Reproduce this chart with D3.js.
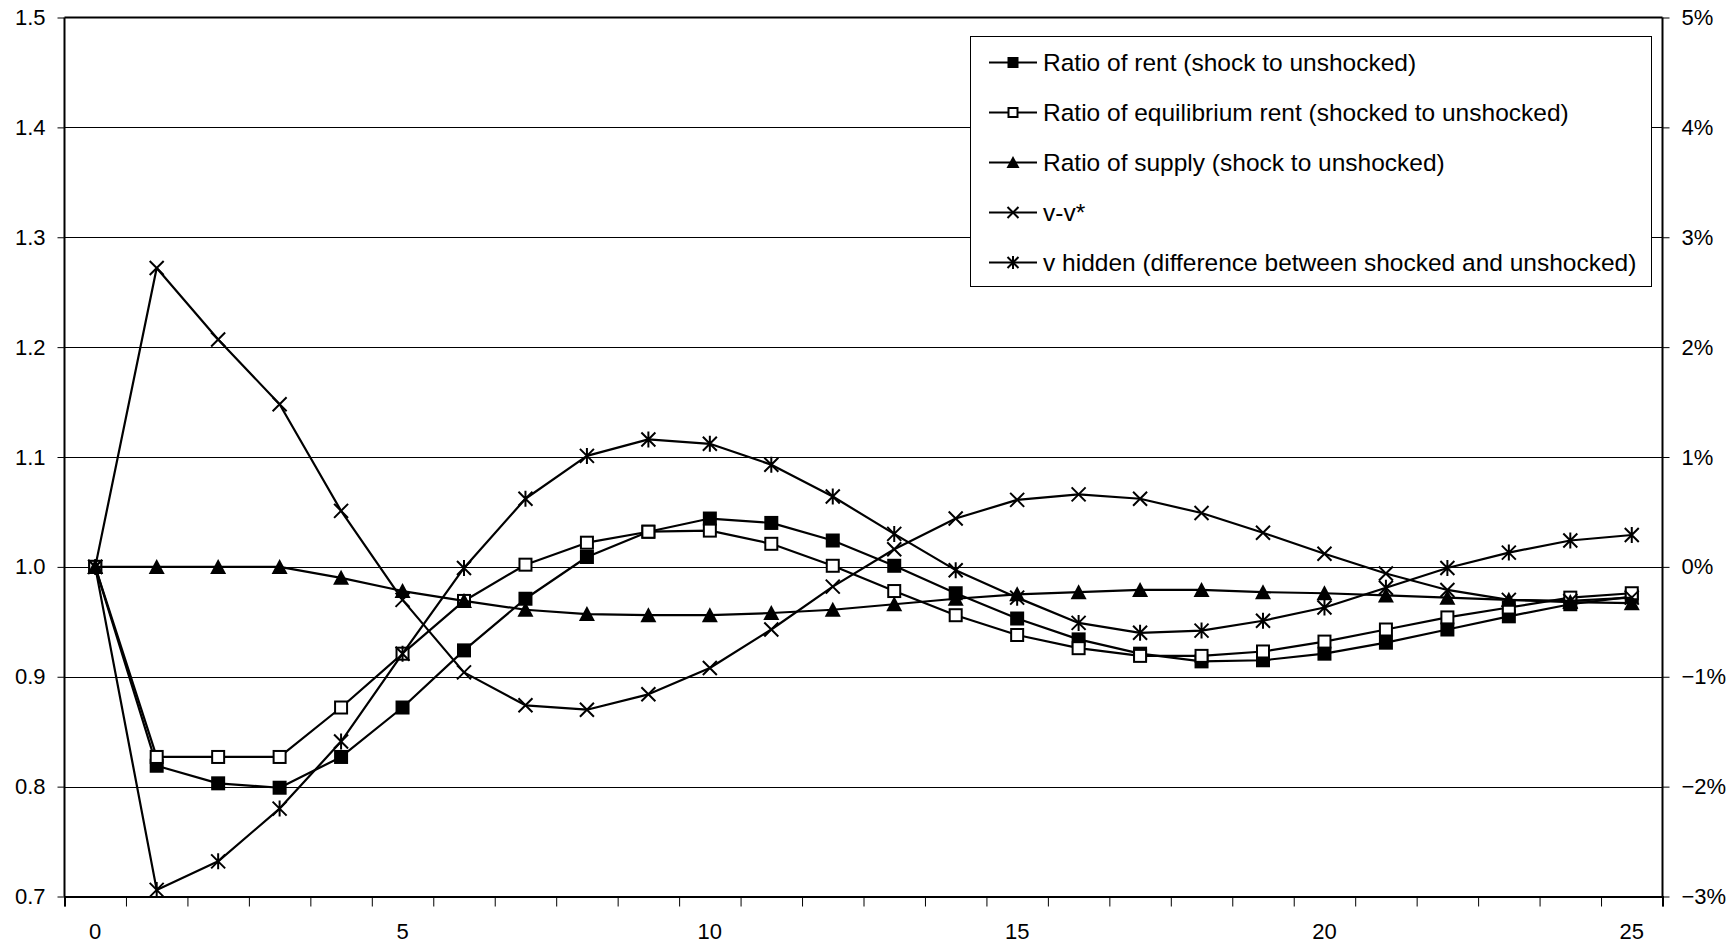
<!DOCTYPE html>
<html>
<head>
<meta charset="utf-8">
<script src="https://cdn.jsdelivr.net/npm/d3@7"></script>
<style>
  html, body { margin: 0; padding: 0; background: #fff; }
  svg { display: block; }
  text { font-family: Arial, "Liberation Sans", sans-serif; fill: #000; }
</style>
</head>
<body>
<svg id="chart" width="1736" height="947"></svg>
<script>
// ---- data ----
const periods = d3.range(0, 26);
const xTickLabels = [0, 5, 10, 15, 20, 25];
const leftTicks = [0.7, 0.8, 0.9, 1.0, 1.1, 1.2, 1.3, 1.4, 1.5];
const rightTicks = [-0.03, -0.02, -0.01, 0, 0.01, 0.02, 0.03, 0.04, 0.05];

const seriesNames = [
  "Ratio of rent (shock to unshocked)",
  "Ratio of equilibrium rent (shocked to unshocked)",
  "Ratio of supply (shock to unshocked)",
  "v-v*",
  "v hidden (difference between shocked and unshocked)"
];

// left axis (ratios)
const rentRatio = [1.000, 0.819, 0.803, 0.799, 0.827, 0.872, 0.924, 0.971, 1.009, 1.032, 1.044, 1.040, 1.024, 1.001, 0.976, 0.953,
  0.934, 0.921, 0.914, 0.915, 0.921, 0.931, 0.943, 0.955, 0.966, 0.973];
const eqRentRatio = [1.000, 0.827, 0.827, 0.827, 0.872, 0.921, 0.969, 1.002, 1.022, 1.032, 1.033, 1.021, 1.001, 0.978, 0.956, 0.938,
  0.926, 0.919, 0.919, 0.923, 0.932, 0.943, 0.954, 0.963, 0.972, 0.976];
const supplyRatio = [1.000, 1.000, 1.000, 1.000, 0.990, 0.978, 0.969, 0.961, 0.957, 0.956, 0.956, 0.958, 0.961, 0.966, 0.971, 0.975,
  0.977, 0.979, 0.979, 0.977, 0.976, 0.974, 0.972, 0.970, 0.968, 0.967];
// right axis (percent)
const vMinusVStar = [0.0000, 0.0272, 0.0207, 0.0148, 0.0051, -0.0030, -0.0096, -0.0126, -0.0130, -0.0116, -0.0092, -0.0057, -0.0018,
  0.0016, 0.0044, 0.0061, 0.0066, 0.0062, 0.0049, 0.0031, 0.0012, -0.0006, -0.0021, -0.0030, -0.0031, -0.0028];
const vHidden = [0.0000, -0.0294, -0.0268, -0.0220, -0.0159, -0.0079, -0.0001, 0.0062, 0.0101, 0.0116, 0.0112, 0.0093, 0.0064,
  0.0030, -0.0003, -0.0028, -0.0051, -0.0060, -0.0058, -0.0049, -0.0037, -0.0019, -0.0001, 0.0013, 0.0024, 0.0029];

// ---- layout ----
const svg = d3.select("#chart");
const L = 64.5, R = 1662.5, T = 17.5, B = 896.5;

const x = d3.scaleBand().domain(periods).range([L, R]).paddingInner(0).paddingOuter(0);
const xEdge = d3.scaleLinear().domain([0, periods.length]).range([L, R]);
const yL = d3.scaleLinear().domain([0.7, 1.5]).range([B, T]);
const yR = d3.scaleLinear().domain([-0.03, 0.05]).range([B, T]);
const cx = d => x(d) + x.bandwidth() / 2;
const tickFont = "22px";

// gridlines
svg.append("g").selectAll("line").data(leftTicks.slice(1, -1)).join("line")
  .attr("x1", L).attr("x2", R)
  .attr("y1", d => Math.round(yL(d)) + 0.5).attr("y2", d => Math.round(yL(d)) + 0.5)
  .attr("stroke", "#000").attr("stroke-width", 1);

// top border
svg.append("line").attr("x1", L).attr("x2", R).attr("y1", yL(1.5)).attr("y2", yL(1.5))
  .attr("stroke", "#000").attr("stroke-width", 2);

// left axis
const axL = svg.append("g").attr("transform", `translate(${L},0)`)
  .call(d3.axisLeft(yL).tickValues(leftTicks).tickFormat(d3.format(".1f")).tickSize(7).tickPadding(12));
axL.select(".domain").attr("stroke-width", 2).attr("d", `M0,${T}V${B}`);
axL.selectAll("text").style("font-size", tickFont).style("font-family", "Arial, 'Liberation Sans', sans-serif");

// right axis
const axR = svg.append("g").attr("transform", `translate(${R},0)`)
  .call(d3.axisRight(yR).tickValues(rightTicks).tickFormat(d3.format(".0%")).tickSize(7).tickPadding(12));
axR.select(".domain").attr("stroke-width", 2).attr("d", `M0,${T}V${B}`);
axR.selectAll("text").style("font-size", tickFont).style("font-family", "Arial, 'Liberation Sans', sans-serif");

// bottom axis: tick marks at category edges
const axBt = svg.append("g").attr("transform", `translate(0,${B})`)
  .call(d3.axisBottom(xEdge).tickValues(d3.range(0, periods.length + 1)).tickFormat("").tickSize(10));
axBt.select(".domain").attr("stroke-width", 2);
// bottom axis labels
const axB = svg.append("g").attr("transform", `translate(0,${B})`)
  .call(d3.axisBottom(x).tickValues(xTickLabels).tickSize(0).tickPadding(27));
axB.select(".domain").remove();
axB.selectAll("text").style("font-size", tickFont).style("font-family", "Arial, 'Liberation Sans', sans-serif");

// ---- markers ----
function marker(g, type, size) {
  const h = size / 2;
  if (type === "fsq") {
    g.append("rect").attr("x", -h).attr("y", -h).attr("width", size).attr("height", size).attr("fill", "#000");
  } else if (type === "osq") {
    g.append("rect").attr("x", -h + 1).attr("y", -h + 1).attr("width", size - 2).attr("height", size - 2)
      .attr("fill", "#fff").attr("stroke", "#000").attr("stroke-width", 2);
  } else if (type === "tri") {
    g.append("path").attr("d", `M0,${-h - 1}L${h + 1},${h}L${-h - 1},${h}Z`).attr("fill", "#000");
  } else if (type === "x") {
    g.append("path").attr("d", `M${-h},${-h}L${h},${h}M${-h},${h}L${h},${-h}`)
      .attr("stroke", "#000").attr("stroke-width", 2).attr("fill", "none");
  } else if (type === "ast") {
    g.append("path").attr("d", `M${-h},${-h}L${h},${h}M${-h},${h}L${h},${-h}M0,${-h - 1}L0,${h + 1}`)
      .attr("stroke", "#000").attr("stroke-width", 2).attr("fill", "none");
  }
}

const series = [
  { name: seriesNames[0], values: rentRatio, y: yL, m: "fsq" },
  { name: seriesNames[1], values: eqRentRatio, y: yL, m: "osq" },
  { name: seriesNames[2], values: supplyRatio, y: yL, m: "tri" },
  { name: seriesNames[3], values: vMinusVStar, y: yR, m: "x" },
  { name: seriesNames[4], values: vHidden, y: yR, m: "ast" }
];

series.forEach(s => {
  const line = d3.line().x((d, i) => cx(periods[i])).y(d => s.y(d));
  const g = svg.append("g");
  g.append("path").datum(s.values).attr("d", line)
    .attr("fill", "none").attr("stroke", "#000").attr("stroke-width", 2.2).attr("stroke-linejoin", "round");
  g.selectAll("g.m").data(s.values).join("g").attr("class", "m")
    .attr("transform", (d, i) => `translate(${cx(periods[i])},${s.y(d)})`)
    .each(function () { marker(d3.select(this), s.m, 14); });
});

// ---- legend ----
const lg = svg.append("g");
lg.append("rect").attr("x", 970.5).attr("y", 36.5).attr("width", 681).attr("height", 250)
  .attr("fill", "#fff").attr("stroke", "#000").attr("stroke-width", 1);
series.forEach((s, i) => {
  const yy = 62.5 + i * 50;
  const row = lg.append("g").attr("transform", `translate(0,${yy})`);
  row.append("line").attr("x1", 989).attr("x2", 1037).attr("y1", 0).attr("y2", 0)
    .attr("stroke", "#000").attr("stroke-width", 2);
  const mg = row.append("g").attr("transform", "translate(1013,0)");
  marker(mg, s.m, 11);
  row.append("text").attr("x", 1043).attr("y", 0).attr("dy", "0.36em")
    .style("font-size", "24.5px").text(s.name);
});
</script>
</body>
</html>
